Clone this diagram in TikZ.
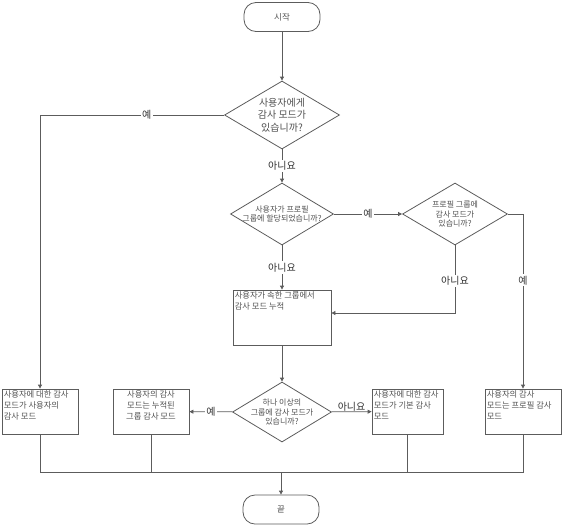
\documentclass[tikz,border=0pt]{standalone}
\usepackage{fontspec}
\setmainfont{Noto Sans CJK KR}
\usetikzlibrary{arrows.meta, positioning, shapes.geometric}
\definecolor{fcline}{HTML}{5C5C5C}
\definecolor{fctext}{HTML}{505050}

\begin{document}
\begin{tikzpicture}[
  x=1pt, y=-1pt,
  term/.style={draw=fcline, line width=0.8pt, rounded corners=12pt, minimum width=76pt, minimum height=29pt, font=\fontsize{8.5}{10}\selectfont, text=fctext},
  dec/.style={draw=fcline, line width=0.8pt, diamond, inner sep=0pt},
  dectext/.style={align=center, text=fctext, inner sep=0pt, font=\fontsize{8}{9.5}\selectfont},
  box/.style={draw=fcline, line width=0.8pt, minimum height=45pt, inner sep=0pt},
  boxtext/.style={align=left, text=fctext, inner sep=2pt, font=\fontsize{8.3}{11}\selectfont},
  line/.style={draw=fcline, line width=0.8pt},
  lbl/.style={fill=white, inner sep=1.5pt, font=\fontsize{10}{12}\selectfont, text=black!80},
  >={Triangle[length=4pt, width=4pt]}
]
  \useasboundingbox (0,0) rectangle (564,528);

  % Start and first question
  \node[term] (start) at (282,17) {시작};
  \node[dec, minimum width=115pt, minimum height=68pt,
    label={[dectext, font=\fontsize{10}{12.5}\selectfont]center:{사용자에게\\감사 모드가\\있습니까?}}] (d1) at (282,115) {};

  % Profile group questions
  \node[dec, minimum width=103pt, minimum height=62pt,
    label={[dectext]center:{사용자가 프로필\\그룹에 할당되었습니까?}}] (d2) at (282,214) {};
  \node[dec, minimum width=105pt, minimum height=62pt,
    label={[dectext]center:{프로필 그룹에\\감사 모드가\\있습니까?}}] (d3) at (455,214) {};

  % Accumulate group audit modes
  \node[box, minimum width=98pt, minimum height=55pt,
    label={[boxtext, anchor=north west]north west:{사용자가 속한 그룹에서\\감사 모드 누적}}] (acc) at (282,317.5) {};
  \node[dec, minimum width=99pt, minimum height=60pt,
    label={[dectext]center:{하나 이상의\\그룹에 감사 모드가\\있습니까?}}] (d4) at (282,412) {};

  % Result boxes
  \node[box, minimum width=76pt,
    label={[boxtext, anchor=north west]north west:{사용자에 대한 감사\\모드가 사용자의\\감사 모드}}] (box1) at (40,411.5) {};
  \node[box, minimum width=76pt,
    label={[boxtext, align=center, anchor=north]north:{사용자의 감사\\모드는 누적된\\그룹 감사 모드}}] (box2) at (151,411.5) {};
  \node[box, minimum width=71pt,
    label={[boxtext, anchor=north west]north west:{사용자에 대한 감사\\모드가 기본 감사\\모드}}] (box3) at (407.5,411.5) {};
  \node[box, minimum width=76pt,
    label={[boxtext, anchor=north west]north west:{사용자의 감사\\모드는 프로필 감사\\모드}}] (box4) at (523,411.5) {};

  % End
  \node[term] (end) at (281,509.5) {끝};
  \coordinate (merge) at (281,472);

  % Connectors
  \draw[line, ->] (start) -- (d1);
  \draw[line, ->] (d1.west) -| (box1.north) node[lbl, pos=0.21] {예};
  \draw[line, ->] (d1) -- (d2) node[lbl, midway] {아니요};
  \draw[line, ->] (d2) -- (d3) node[lbl, midway] {예};
  \draw[line, ->] (d2) -- (acc) node[lbl, midway] {아니요};
  \draw[line, ->] (d3.south) |- ([yshift=4.5pt]acc.east) node[lbl, pos=0.26] {아니요};
  \draw[line, ->] (d3.east) -| (box4.north) node[lbl, pos=0.69] {예};
  \draw[line, ->] (acc) -- (d4);
  \draw[line, ->] (d4) -- (box2) node[lbl, midway] {예};
  \draw[line, ->] (d4) -- (box3) node[lbl, fill=none, midway, above=-1pt] {아니요};

  % Merge to end
  \draw[line] (box1.south) -- (box1.south |- merge) -- (box4.south |- merge) -- (box4.south);
  \draw[line] (box2.south) -- (box2.south |- merge);
  \draw[line] (box3.south) -- (box3.south |- merge);
  \draw[line, ->] (merge) -- (end);

\end{tikzpicture}
\end{document}
